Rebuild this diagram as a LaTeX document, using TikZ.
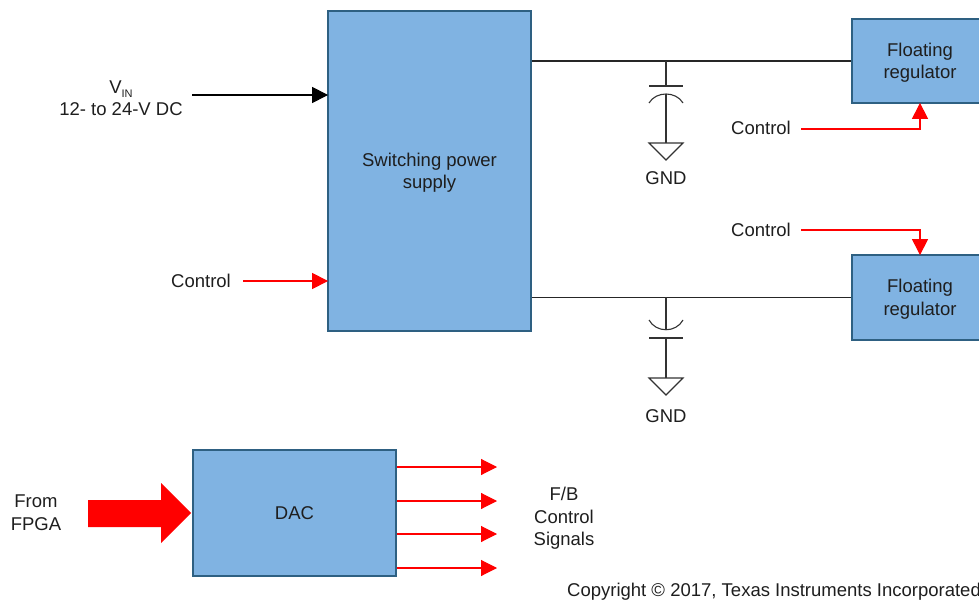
\documentclass[tikz,border=0pt]{standalone}
\usepackage{fontspec}
\setmainfont{Liberation Sans}
\usepackage{xcolor}
\usepackage{tikz}
\usetikzlibrary{arrows.meta,calc}
\definecolor{blockfill}{RGB}{128,179,226}
\definecolor{blockline}{RGB}{46,96,130}
\definecolor{textgrey}{RGB}{30,30,30}
\newcommand{\topstrut}{\rule{0pt}{17pt}}
\tikzset{
  block/.style={draw=blockline,fill=blockfill,line width=2.8pt,align=center,inner sep=0pt},
  label/.style={align=center,inner sep=0pt,text=textgrey,font=\fontsize{18.5}{22.5}\selectfont},
  wire/.style={line width=1.1pt,black!85},
  feed/.style={line width=1.1pt,shorten >=-1.5pt,-{Triangle[length=16pt,width=16pt]}},
  redfeed/.style={feed,red},
  capline/.style={line width=1.1pt,black!80},
}
\begin{document}
\begin{tikzpicture}[x=1pt,y=-1pt]
\useasboundingbox (0,0) rectangle (979,601);
% blocks
\node[block,label,minimum width=203pt,minimum height=320pt] (supply) at (429.5,171) {\topstrut Switching power\\supply};
\node[block,label,minimum width=136pt,minimum height=84pt] (floatone) at (920,61) {\topstrut Floating\\regulator};
\node[block,label,minimum width=136pt,minimum height=85pt] (floattwo) at (920,297.5) {\topstrut Floating\\regulator};
\node[block,label,minimum width=203pt,minimum height=126pt] (dac) at (294.5,513) {DAC};
% texts
\node[label] (vin) at (121,98) {V\raisebox{-0.5ex}{\fontsize{11}{11}\selectfont IN}\\12- to 24-V DC};
\node[label] (ctrlsupply) at (201,281) {Control};
\node[label] (ctrlone) at (761,128) {Control};
\node[label] (ctrltwo) at (761,230) {Control};
\node[label] (gndone) at (666,178) {GND};
\node[label] (gndtwo) at (666,416) {GND};
\node[label] (fpga) at (36,512.5) {From\\FPGA};
\node[label] (fbsignals) at (564,518.5) {F/B\\Control\\Signals};
\node[label,anchor=west] (copyright) at (567,592) {Copyright © 2017, Texas Instruments Incorporated};
% input arrows
\coordinate (vinend) at (192,95);
\coordinate (ctrlend) at (243,281);
\draw[feed] (vinend) -- (supply.west|-vinend);
\draw[redfeed] (ctrlend) -- (supply.west|-ctrlend);
\coordinate (ctrlonestart) at (801,129);
\coordinate (ctrltwostart) at (801,230);
\draw[redfeed] (ctrlonestart) -| (floatone.south);
\draw[redfeed] (ctrltwostart) -| (floattwo.north);
% output wires and capacitors
\coordinate (capone) at (666,61);
\coordinate (captwo) at (666,297.5);
\draw[wire] (supply.east|-capone) -- (floatone.west|-capone);
\draw[wire] (supply.east|-captwo) -- (floattwo.west|-captwo);
\draw[capline] (capone) -- (666,86) (649,86) -- (683,86);
\draw[capline] (649,103) .. controls (656,91) and (676,91) .. (683,103);
\draw[capline] (666,94) -- (666,143);
\draw[capline] (649,143) -- (683,143) -- (666,160) -- cycle;
\draw[capline] (captwo) -- (666,330);
\draw[capline] (649,320) .. controls (656,333) and (676,333) .. (683,320);
\draw[capline] (649,338) -- (683,338) (666,338) -- (666,378);
\draw[capline] (649,378) -- (683,378) -- (666,395) -- cycle;
% DAC outputs
\foreach \ypos/\tipname in {467/tipa,501/tipb,534/tipc,568/tipd} {
  \coordinate (\tipname) at (497,\ypos);
  \draw[redfeed,shorten >=0pt] (dac.east|-\tipname) -- (\tipname);
}
% FPGA arrow
\fill[red] (88,500) -- (161,500) -- (161,483) -- (191,513) -- (161,543) -- (161,527) -- (88,527) -- cycle;
\end{tikzpicture}
\end{document}
